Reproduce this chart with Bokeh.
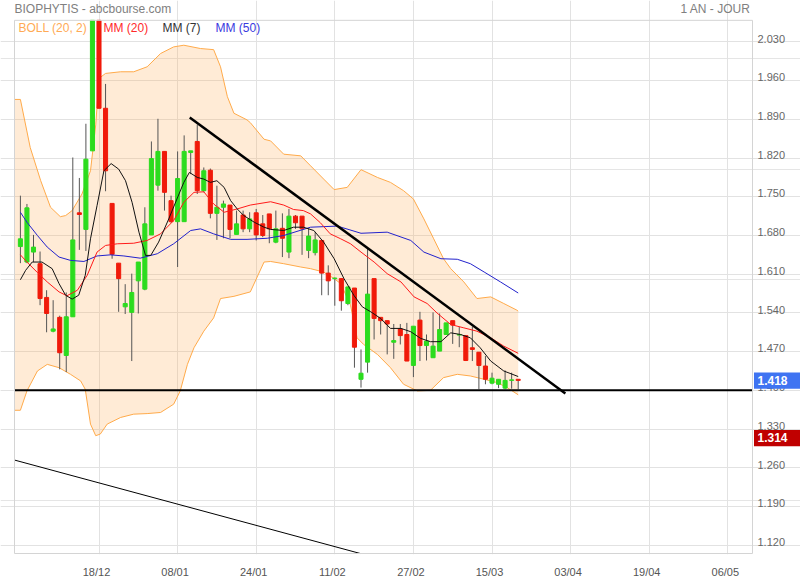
from bokeh.plotting import figure
from bokeh.models import FixedTicker, Range1d, Grid, ColumnDataSource
from bokeh.core.properties import value
from bokeh.embed import file_html
from bokeh.resources import INLINE

# ---------------- data ----------------
day_index = list(range(-12, 65))   # trading-day index, 0 = 18/12
opens = [1.660, 1.632, 1.650, 1.629, 1.568, 1.507, 1.532, 1.463, 1.533, 1.721,
         1.691, 1.833, 2.069, 1.910, 1.738, 1.630, 1.551, 1.541, 1.598, 1.583,
         1.681, 1.771, 1.832, 1.743, 1.705, 1.705, 1.830, 1.850, 1.761, 1.798,
         1.720, 1.731, 1.735, 1.682, 1.717, 1.692, 1.721, 1.701, 1.719, 1.668,
         1.693, 1.650, 1.715, 1.715, 1.653, 1.649, 1.671, 1.612, 1.602, 1.602,
         1.557, 1.585, 1.420, 1.451, 1.602, 1.532, 1.526, 1.487, 1.511, 1.501,
         1.445, 1.527, 1.481, 1.459, 1.471, 1.501, 1.526, 1.500, 1.499, 1.477,
         1.469, 1.444, 1.413, 1.411, 1.404, 1.418, 1.420]
highs = [1.752, 1.737, 1.681, 1.651, 1.581, 1.563, 1.535, 1.577, 1.821, 1.784,
         1.882, 2.069, 2.069, 1.954, 1.738, 1.630, 1.592, 1.611, 1.632, 1.731,
         1.850, 1.891, 1.832, 1.752, 1.832, 1.861, 1.833, 1.880, 1.803, 1.801,
         1.770, 1.743, 1.735, 1.725, 1.725, 1.722, 1.728, 1.717, 1.719, 1.725,
         1.720, 1.728, 1.717, 1.715, 1.693, 1.686, 1.671, 1.626, 1.604, 1.602,
         1.587, 1.585, 1.474, 1.656, 1.602, 1.532, 1.526, 1.520, 1.520, 1.522,
         1.516, 1.542, 1.501, 1.541, 1.539, 1.522, 1.526, 1.515, 1.499, 1.515,
         1.469, 1.462, 1.432, 1.420, 1.436, 1.432, 1.420]
lows = [1.630, 1.630, 1.632, 1.554, 1.505, 1.505, 1.438, 1.433, 1.533, 1.654,
        1.652, 1.833, 1.910, 1.760, 1.638, 1.542, 1.538, 1.453, 1.539, 1.581,
        1.681, 1.761, 1.725, 1.703, 1.623, 1.705, 1.791, 1.755, 1.758, 1.711,
        1.672, 1.675, 1.675, 1.682, 1.686, 1.686, 1.671, 1.677, 1.666, 1.666,
        1.641, 1.639, 1.692, 1.645, 1.639, 1.644, 1.572, 1.572, 1.553, 1.544,
        1.554, 1.441, 1.405, 1.432, 1.492, 1.501, 1.465, 1.457, 1.483, 1.453,
        1.424, 1.453, 1.454, 1.459, 1.471, 1.501, 1.484, 1.478, 1.453, 1.453,
        1.402, 1.411, 1.411, 1.404, 1.402, 1.403, 1.402]
closes = [1.674, 1.730, 1.659, 1.566, 1.539, 1.511, 1.468, 1.533, 1.672, 1.718,
          1.818, 2.069, 1.910, 1.797, 1.646, 1.602, 1.557, 1.577, 1.632, 1.701,
          1.819, 1.832, 1.758, 1.705, 1.783, 1.832, 1.833, 1.761, 1.797, 1.720,
          1.731, 1.737, 1.691, 1.701, 1.692, 1.710, 1.681, 1.680, 1.692, 1.692,
          1.675, 1.715, 1.703, 1.692, 1.679, 1.672, 1.612, 1.598, 1.603, 1.562,
          1.587, 1.478, 1.431, 1.574, 1.530, 1.526, 1.520, 1.490, 1.499, 1.453,
          1.516, 1.481, 1.489, 1.480, 1.510, 1.522, 1.518, 1.501, 1.454, 1.474,
          1.445, 1.420, 1.422, 1.420, 1.418, 1.419, 1.418]

boll_up_x = [-12.9, -12.0, -10.5, -8.9, -7.4, -5.9, -5.1, -4.1, -2.6, -1.3, -0.5, 0.0, 1.0, 3.3,
             5.3, 7.35, 9.4, 11.4, 12.95, 15.5, 17.5, 18.55, 19.6, 20.6, 22.6, 23.1, 25.2, 26.2,
             28.2, 30.8, 32.3, 34.3, 35.9, 37.9, 40.0, 42.5, 44.5, 46.5, 48.0, 49.6, 51.1, 52.6,
             53.7, 55.7, 57.7, 59.8, 61.8, 63.8, 64.0]
boll_up = [1.926, 1.926, 1.839, 1.779, 1.731, 1.714, 1.716, 1.725, 1.755, 1.797, 1.880, 1.964,
           1.973, 1.976, 1.976, 1.985, 2.009, 2.021, 2.024, 2.018, 2.016, 1.985, 1.931, 1.901,
           1.889, 1.884, 1.854, 1.851, 1.827, 1.824, 1.806, 1.782, 1.763, 1.767, 1.799, 1.785,
           1.776, 1.761, 1.746, 1.710, 1.674, 1.638, 1.620, 1.596, 1.566, 1.569, 1.557, 1.545, 1.543]
boll_low_x = [-12.9, -12.0, -11.0, -9.4, -7.9, -6.1, -4.35, -2.8, -2.1, -1.3, -0.5, 0.2, 1.25,
              3.3, 5.3, 7.35, 9.4, 11.4, 12.4, 13.5, 14.5, 16.0, 17.5, 18.55, 20.6, 23.1, 25.2,
              26.2, 28.2, 30.8, 32.3, 34.3, 35.9, 36.9, 38.4, 39.4, 40.4, 42.5, 44.5, 46.5, 48.6,
              50.6, 52.6, 54.7, 56.7, 58.8, 60.8, 62.3, 64.0]
boll_low = [1.364, 1.364, 1.399, 1.435, 1.447, 1.441, 1.429, 1.417, 1.402, 1.339, 1.318, 1.321,
            1.339, 1.351, 1.357, 1.358, 1.360, 1.375, 1.399, 1.447, 1.477, 1.507, 1.531, 1.566,
            1.570, 1.578, 1.632, 1.633, 1.629, 1.623, 1.620, 1.614, 1.602, 1.593, 1.554, 1.495,
            1.483, 1.465, 1.441, 1.411, 1.399, 1.400, 1.423, 1.429, 1.426, 1.420, 1.414, 1.405, 1.392]

mm50_x = [-12, -11.0, -9.4, -7.9, -6.1, -4.35, -2.3, -0.3, 1.75, 3.8, 6.3, 8.9, 11.4, 14.0, 15.5,
          17.5, 20.1, 22.6, 25.7, 28.2, 32.3, 36.4, 40.0, 44.0, 47.6, 49.6, 52.2, 54.7, 56.7,
          58.8, 61.3, 64]
mm50 = [1.722, 1.704, 1.680, 1.659, 1.641, 1.635, 1.633, 1.643, 1.645, 1.643, 1.639, 1.647, 1.665,
        1.689, 1.692, 1.683, 1.673, 1.673, 1.675, 1.680, 1.695, 1.697, 1.684, 1.686, 1.671, 1.650,
        1.638, 1.637, 1.629, 1.614, 1.596, 1.576]

mm20_x = [-12, -11.0, -9.4, -7.9, -6.1, -4.9, -3.3, -1.8, -0.3, 1.0, 2.8, 5.3, 7.35, 9.4, 11.4,
          12.95, 14.5, 16.0, 17.5, 19.1, 21.1, 23.1, 26.2, 28.2, 29.7, 31.2, 32.3, 33.8, 35.3,
          36.9, 38.4, 40.0, 42.0, 44.0, 46.1, 48.1, 50.1, 51.6, 53.7, 55.7, 57.7, 59.8, 61.8, 64]
mm20 = [1.645, 1.632, 1.613, 1.596, 1.578, 1.571, 1.581, 1.608, 1.650, 1.662, 1.665, 1.666, 1.671,
        1.683, 1.707, 1.740, 1.758, 1.759, 1.737, 1.722, 1.728, 1.735, 1.741, 1.735, 1.727, 1.725,
        1.719, 1.703, 1.683, 1.674, 1.665, 1.650, 1.632, 1.611, 1.596, 1.569, 1.557, 1.540, 1.519,
        1.513, 1.507, 1.495, 1.480, 1.467]

mm7_x = [-12, -11.2, -10.2, -8.7, -7.15, -6.1, -5.1, -4.1, -3.1, -2.1, -1.3, -0.3, 0.75, 1.85,
         3.0, 4.05, 5.05, 6.1, 7.1, 7.9, 9.1, 10.65, 11.9, 12.95, 13.8, 15.0, 16.0, 17.0, 18.0,
         19.1, 20.1, 21.1, 22.1, 23.7, 25.2, 26.2, 28.2, 29.7, 31.2, 32.8, 34.3, 35.9, 37.4,
         38.9, 40.2, 41.5, 43.0, 44.5, 46.1, 47.6, 49.1, 50.6, 52.2, 53.7, 55.2, 56.7, 58.2,
         59.8, 61.8, 64]
mm7 = [1.600, 1.617, 1.632, 1.632, 1.620, 1.593, 1.572, 1.565, 1.572, 1.608, 1.674, 1.734, 1.797,
       1.810, 1.800, 1.779, 1.740, 1.686, 1.644, 1.644, 1.668, 1.710, 1.746, 1.776, 1.794, 1.785,
       1.782, 1.776, 1.779, 1.767, 1.743, 1.728, 1.716, 1.704, 1.695, 1.691, 1.689, 1.695, 1.695,
       1.689, 1.668, 1.638, 1.602, 1.572, 1.551, 1.542, 1.530, 1.512, 1.512, 1.506, 1.494, 1.488,
       1.488, 1.504, 1.501, 1.495, 1.477, 1.453, 1.435, 1.425]

trend_down_x = [13.85, 71.2]
trend_down_y = [1.8935, 1.3945]
trend_low_x = [-12.9, 39.9]
trend_low_y = [1.274, 1.105]
support_level = 1.400
last_price = 1.418
other_price = 1.314

x_tick_pos = [0, 12, 24, 36, 48, 60, 72, 84, 96]
x_tick_labels = ["18/12", "08/01", "24/01", "11/02", "27/02", "15/03", "03/04", "19/04", "06/05"]
y_ticks = [2.03, 1.96, 1.89, 1.82, 1.75, 1.68, 1.61, 1.54, 1.47, 1.40, 1.33, 1.26, 1.19, 1.12]
y_tick_labels = ["2.030", "1.960", "1.890", "1.820", "1.750", "1.680", "1.610", "1.540",
                 "1.470", "1.400", "1.330", "1.260", "1.190", "1.120"]

title_text = "BIOPHYTIS - abcbourse.com"
period_text = "1 AN - JOUR"
legend_names = ["BOLL (20, 2)", "MM (20)", "MM (7)", "MM (50)"]

# ---------------- layout / styles ----------------
FONT = "Liberation Sans"
GREEN = "#2cdc1e"
RED = "#f01a0a"
WICK = "#555555"
BAND_LINE = "#ffaa4a"
BAND_FILL = "#ffaa50"
C20 = "#ff1a1a"
C7 = "#111111"
C50 = "#2222cc"
GRID = "#e2e2e2"
BORDER = "#d4d4d4"

PX_X = 6.55      # pixels per trading day
PX_Y = 557.1     # pixels per price unit
W, H = 800, 580
FRAME_H = 558
# chart area (inside the gray border)
AX0, AX1 = -12.9, 99.77
AY0, AY1 = 1.105, 2.069
# full drawing frame (covers title row and right label column too)
FX0, FX1 = -98.5 / PX_X, (W - 98.5) / PX_X
FY1 = 2.030 + 41.7 / PX_Y
FY0 = FY1 - FRAME_H / PX_Y


def dx(px):
    return px / PX_X


def dy(px):
    return px / PX_Y


p = figure(width=W, height=H, x_range=Range1d(FX0, FX1), y_range=Range1d(FY0, FY1),
           output_backend="svg", toolbar_location=None,
           x_axis_location="below", y_axis_location=None,
           min_border_left=0, min_border_right=0, min_border_top=0, min_border_bottom=H - FRAME_H)
p.background_fill_color = "white"
p.border_fill_color = "white"
p.outline_line_color = None

# x axis (dates) - labels sit slightly left of their grid line
p.extra_x_ranges = {"lab": Range1d(FX0 + dx(2.5), FX1 + dx(2.5))}
xax = p.xaxis[0]
xax.x_range_name = "lab"
xax.ticker = FixedTicker(ticks=x_tick_pos)
xax.major_label_overrides = {t: l for t, l in zip(x_tick_pos, x_tick_labels)}
xax.axis_line_color = None
xax.major_tick_line_color = None
xax.minor_tick_line_color = None
xax.major_label_standoff = 5
xax.major_label_text_font = FONT
xax.major_label_text_font_size = "11px"
xax.major_label_text_color = "#555555"
p.xgrid.grid_line_color = None
p.add_layout(Grid(dimension=0, ticker=FixedTicker(ticks=x_tick_pos), grid_line_color=GRID,
                  bounds=(AY0, AY1)))

# horizontal grid limited to the chart area
p.add_layout(Grid(dimension=1, ticker=FixedTicker(ticks=y_ticks), grid_line_color=GRID,
                  bounds=(AX0, AX1)))

# Bollinger band
p.patch(x=boll_up_x + boll_low_x[::-1], y=boll_up + boll_low[::-1],
        fill_color=BAND_FILL, fill_alpha=0.235, line_color=None)
p.line(boll_up_x, boll_up, line_color=BAND_LINE, line_width=1)
p.line(boll_low_x, boll_low, line_color=BAND_LINE, line_width=1)

# candles
cols = [GREEN if c >= o else RED for o, c in zip(opens, closes)]
src = ColumnDataSource(dict(x=day_index, high=highs, low=lows,
                            top=[max(o, c) for o, c in zip(opens, closes)],
                            bottom=[min(o, c) for o, c in zip(opens, closes)],
                            color=cols))
p.segment(x0="x", y0="high", x1="x", y1="low", source=src, line_color=WICK, line_width=1)
p.vbar(x="x", width=0.62, top="top", bottom="bottom", source=src,
       fill_color="color", line_color="color", line_width=1)

# moving averages
p.line(mm50_x, mm50, line_color=C50, line_width=1)
p.line(mm20_x, mm20, line_color=C20, line_width=1)
p.line(mm7_x, mm7, line_color=C7, line_width=1)

# trend lines and support
p.line(trend_down_x, trend_down_y, line_color="black", line_width=2.5)
p.line(trend_low_x, trend_low_y, line_color="black", line_width=1)
p.line([AX0, AX1], [support_level, support_level], line_color="black", line_width=2)

# white cover below the chart area (the thin trend line stops at the border)
p.quad(left=[FX0], right=[FX1], bottom=[FY0], top=[AY0], fill_color="white", line_color=None)

# chart border
p.segment(x0=[AX0, AX1, AX0, AX0], y0=[AY0, AY0, AY1, AY0],
          x1=[AX0, AX1, AX1, AX1], y1=[AY1, AY1, AY1, AY0], line_color=BORDER, line_width=1)

# legend texts inside the chart
p.text(x=[AX0 + dx(4), AX0 + dx(89), AX0 + dx(148), AX0 + dx(201)], y=[AY1 - dy(8)] * 4,
       text=legend_names, text_color=["#ffaa55", "#ff2a2a", "#333333", "#3a3ae0"],
       text_font=value(FONT), text_font_size="12px", text_baseline="middle", text_align="left")

# title row
p.text(x=[AX0], y=[AY1 - dy(-11)], text=[title_text], text_color="#808080",
       text_font=value(FONT), text_font_size="12px", text_baseline="middle", text_align="left")
p.text(x=[AX1 - dx(2)], y=[AY1 - dy(-11)], text=[period_text], text_color="#808080",
       text_font=value(FONT), text_font_size="12px", text_baseline="middle", text_align="right")

# price scale labels on the right (sit just above their grid line)
p.text(x=[AX1 + dx(5)] * len(y_ticks), y=[t + dy(3.3) for t in y_ticks], text=y_tick_labels,
       text_color="#666666", text_font=value(FONT), text_font_size="11px",
       text_baseline="middle", text_align="left")

# price boxes
box_prices = [last_price, other_price]
box_colors = ["#3f74f2", "#c00000"]
p.quad(left=[AX1 + dx(1.5)] * 2, right=[FX1] * 2,
       bottom=[v - dy(8.5) for v in box_prices], top=[v + dy(8) for v in box_prices],
       fill_color=box_colors, line_color=None)
p.text(x=[AX1 + dx(5)] * 2, y=box_prices, text=[f"{v:.3f}" for v in box_prices],
       text_color="white", text_font=value(FONT), text_font_size="12px", text_font_style="bold",
       text_baseline="middle", text_align="left")

open("out.html", "w").write(file_html(p, INLINE))
